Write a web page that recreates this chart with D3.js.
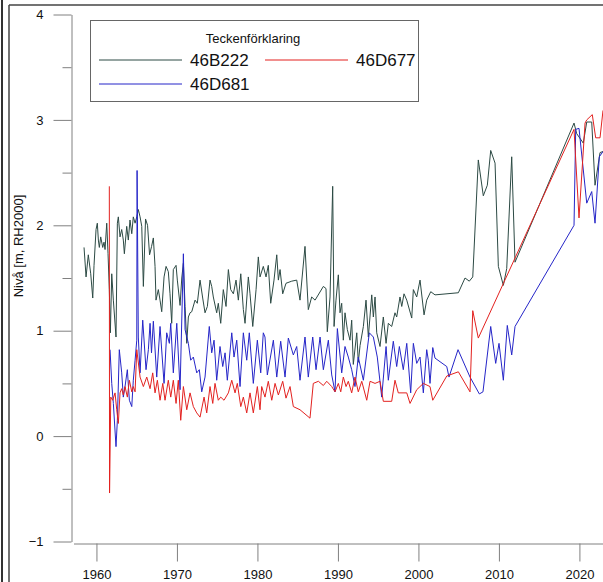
<!DOCTYPE html>
<html>
<head>
<meta charset="utf-8">
<script src="https://cdn.jsdelivr.net/npm/d3@7"></script>
<style>
body{margin:0;background:#fff;}
svg{display:block;font-family:Arial,"Liberation Sans",sans-serif;}
</style>
</head>
<body>
<svg id="chart" width="603" height="582"></svg>
<script>
// grundvattennivå, [år, nivå m RH2000]
var s46B222=[[1958.46,1.79],[1958.71,1.51],[1958.99,1.72],[1959.29,1.54],[1959.54,1.31],[1959.70,1.62],[1959.95,1.96],
  [1960.11,2.02],[1960.24,1.86],[1960.36,1.79],[1960.53,1.89],[1960.78,1.79],[1960.94,1.84],[1961.07,1.77],[1961.28,2.02],
  [1961.44,1.73],[1961.60,1.39],[1961.73,0.98],[1961.90,1.54],[1962.10,1.29],[1962.43,0.94],[1962.60,2.02],[1962.72,2.08],
  [1962.93,1.89],[1963.14,1.96],[1963.34,1.86],[1963.47,1.73],[1963.76,1.99],[1963.96,1.86],[1964.17,2.05],[1964.39,1.92],
  [1964.58,2.08],[1964.80,2.02],[1965.01,2.08],[1965.20,2.15],[1965.42,2.08],[1965.63,1.99],[1965.83,1.42],[1966.10,2.06],
  [1966.35,2.00],[1966.60,1.72],[1966.85,1.80],[1967.07,1.88],[1967.28,1.61],[1967.40,1.29],[1967.69,1.39],[1967.90,1.29],
  [1968.11,1.18],[1968.40,1.51],[1968.65,1.61],[1968.93,1.56],[1969.14,1.35],[1969.35,1.07],[1969.55,1.58],[1969.89,1.62],
  [1970.05,1.48],[1970.39,1.24],[1970.60,1.50],[1970.80,1.64],[1971.01,1.23],[1971.22,0.88],[1971.42,1.13],[1971.63,1.17],
  [1971.84,1.18],[1972.25,1.29],[1972.53,1.26],[1972.87,1.48],[1973.20,1.31],[1973.49,1.17],[1973.78,1.23],[1974.11,1.48],
  [1974.32,1.42],[1974.52,1.32],[1974.94,1.17],[1975.14,1.26],[1975.44,1.07],[1975.76,1.39],[1976.10,1.23],[1976.39,1.58],
  [1976.68,1.39],[1977.01,1.35],[1977.34,1.48],[1977.63,1.29],[1977.93,1.54],[1978.25,1.20],[1978.46,1.07],[1978.87,1.51],
  [1979.08,1.35],[1979.42,1.04],[1979.83,1.39],[1980.11,1.70],[1980.32,1.51],[1980.73,1.61],[1981.07,1.51],[1981.35,1.62],
  [1981.65,1.26],[1982.06,1.48],[1982.40,1.72],[1982.60,1.48],[1982.81,1.58],[1983.14,1.35],[1983.55,1.45],[1984.26,1.47],
  [1984.88,1.48],[1985.29,1.29],[1985.91,1.80],[1986.32,1.20],[1986.74,1.32],[1987.16,1.29],[1988.19,1.42],[1988.52,1.40],
  [1988.68,0.99],[1989.02,1.32],[1989.35,2.37],[1989.52,1.04],[1989.76,1.29],[1990.05,1.53],[1990.26,1.17],[1990.47,1.26],
  [1990.67,0.91],[1990.88,1.17],[1991.17,1.01],[1991.50,0.91],[1991.71,1.10],[1991.91,0.68],[1992.34,0.98],[1992.53,0.70],
  [1992.75,0.86],[1993.16,1.04],[1993.49,1.29],[1993.78,0.94],[1994.20,1.34],[1994.40,1.13],[1994.61,1.32],[1994.82,0.98],
  [1995.23,0.85],[1995.64,1.13],[1995.98,0.88],[1996.26,1.07],[1996.68,1.04],[1997.09,1.17],[1997.30,1.13],[1997.71,1.32],
  [1997.93,1.23],[1998.21,1.35],[1998.55,1.29],[1999.17,1.12],[1999.37,1.39],[1999.79,1.32],[2000.20,1.48],[2000.70,1.15],
  [2001.03,1.29],[2001.53,1.37],[2002.06,1.34],[2004.96,1.36],[2005.79,1.50],[2006.32,1.47],[2006.75,1.51],[2007.44,2.62],
  [2008.06,2.28],[2008.56,2.38],[2008.98,2.71],[2009.52,2.59],[2009.93,1.61],[2010.55,1.43],[2010.97,1.59],[2011.59,2.65],
  [2012.00,1.65],[2019.33,2.97],[2019.66,2.87],[2020.48,2.78],[2020.91,2.98],[2021.53,2.98],[2021.94,2.38],[2022.56,2.69],
  [2022.93,2.70]];

var s46D677=[[1961.60,2.37],[1961.63,-0.54],[1961.78,0.37],[1962.02,0.34],[1962.31,0.41],[1962.52,0.25],[1962.72,0.12],
  [1962.93,0.41],[1963.14,0.45],[1963.34,0.39],[1963.55,0.47],[1963.84,0.37],[1964.09,0.53],[1964.39,0.42],[1964.58,0.47],
  [1964.80,0.42],[1965.01,0.82],[1965.42,0.56],[1965.83,0.47],[1966.25,0.56],[1966.66,0.45],[1966.99,0.60],[1967.28,0.41],
  [1967.57,0.53],[1967.90,0.34],[1968.24,0.50],[1968.52,0.34],[1968.93,0.53],[1969.23,0.37],[1969.55,0.53],[1969.89,0.31],
  [1970.17,0.53],[1970.47,0.15],[1970.80,0.47],[1971.22,0.25],[1971.63,0.41],[1972.04,0.28],[1972.46,0.22],[1972.87,0.18],
  [1973.37,0.37],[1973.70,0.22],[1974.11,0.47],[1974.45,0.31],[1974.73,0.50],[1975.14,0.34],[1975.44,0.37],[1975.85,0.34],
  [1976.39,0.41],[1976.81,0.53],[1977.22,0.41],[1977.50,0.50],[1977.93,0.28],[1978.25,0.37],[1978.67,0.22],[1979.08,0.41],
  [1979.49,0.22],[1979.99,0.47],[1980.32,0.25],[1980.53,0.47],[1980.94,0.37],[1981.35,0.52],[1981.78,0.34],[1982.19,0.50],
  [1982.60,0.39],[1983.14,0.52],[1983.55,0.36],[1984.05,0.47],[1984.46,0.28],[1985.29,0.25],[1986.53,0.17],[1986.94,0.50],
  [1987.57,0.52],[1988.19,0.48],[1988.61,0.52],[1989.23,0.47],[1989.64,0.42],[1990.05,0.50],[1990.35,0.42],[1990.67,0.56],
  [1991.01,0.47],[1991.29,0.52],[1991.71,0.41],[1992.12,0.56],[1992.53,0.42],[1992.96,0.52],[1993.58,0.34],[1993.99,0.52],
  [1994.61,0.50],[1995.23,0.52],[1995.64,0.33],[1996.68,0.33],[1997.09,0.53],[1997.50,0.41],[1998.55,0.41],[1998.96,0.31],
  [1999.79,0.44],[2000.61,0.50],[2001.44,0.47],[2001.78,0.34],[2003.52,0.57],[2004.96,0.61],[2006.41,0.42],[2006.75,1.19],
  [2007.44,0.93],[2019.33,2.91],[2019.95,2.07],[2020.70,2.97],[2020.91,3.00],[2021.60,3.05],[2022.02,2.83],[2022.56,2.83],
  [2022.93,3.09]];

var s46D681=[[1961.69,0.82],[1961.90,0.50],[1962.10,0.31],[1962.43,-0.10],[1962.60,0.15],[1962.84,0.82],[1963.14,0.60],
  [1963.34,0.37],[1963.55,0.47],[1963.84,0.63],[1964.09,0.34],[1964.39,0.28],[1964.58,0.53],[1964.80,0.72],[1965.01,0.91],
  [1965.05,2.52],[1965.20,0.94],[1965.42,0.60],[1965.75,1.10],[1966.16,0.63],[1966.45,0.82],[1966.66,1.07],[1966.84,0.79],
  [1967.07,1.09],[1967.49,0.56],[1967.90,1.04],[1968.40,0.50],[1968.73,0.98],[1969.06,0.88],[1969.23,1.07],[1969.55,0.60],
  [1969.98,1.07],[1970.39,0.44],[1970.80,1.73],[1971.01,1.01],[1971.42,0.88],[1971.71,0.72],[1972.04,0.75],[1972.46,0.60],
  [1972.78,0.63],[1973.08,0.42],[1973.49,0.56],[1974.02,1.04],[1974.32,0.79],[1974.61,0.91],[1974.94,0.53],[1975.35,0.85],
  [1975.69,0.66],[1975.98,0.79],[1976.26,0.53],[1976.81,0.98],[1977.09,0.75],[1977.43,0.91],[1977.84,0.47],[1978.25,0.98],
  [1978.67,0.72],[1978.99,0.98],[1979.49,0.50],[1979.99,0.91],[1980.41,0.60],[1980.73,0.98],[1980.94,0.94],[1981.23,0.58],
  [1981.98,0.91],[1982.40,0.56],[1982.89,0.90],[1983.43,0.56],[1983.84,0.93],[1984.46,0.77],[1984.88,0.85],[1985.29,0.53],
  [1985.91,0.94],[1986.32,0.56],[1986.87,0.94],[1987.28,0.63],[1987.78,0.94],[1988.19,0.63],[1988.81,0.91],[1989.23,0.58],
  [1989.64,0.42],[1989.93,1.02],[1990.47,0.60],[1990.88,0.85],[1991.29,0.75],[1991.71,0.63],[1992.12,0.47],[1992.53,0.75],
  [1993.16,0.53],[1993.90,0.98],[1994.40,0.94],[1994.89,0.75],[1995.44,0.37],[1995.98,0.85],[1996.26,0.53],[1996.88,0.90],
  [1997.30,0.66],[1997.63,0.85],[1998.12,0.63],[1998.55,0.88],[1999.04,0.41],[1999.37,0.88],[1999.79,0.69],[2000.20,0.75],
  [2000.61,0.41],[2001.03,0.82],[2001.23,0.72],[2001.44,0.50],[2001.78,0.84],[2002.06,0.74],[2003.52,0.66],[2003.80,0.56],
  [2004.92,0.82],[2006.41,0.56],[2007.57,0.40],[2008.02,0.42],[2008.98,1.04],[2009.60,0.69],[2010.01,0.88],[2010.55,0.53],
  [2011.04,1.05],[2011.59,0.77],[2012.00,1.04],[2019.33,2.00],[2019.54,2.91],[2019.95,2.92],[2020.91,2.21],[2021.53,2.32],
  [2021.94,2.02],[2022.47,2.65],[2022.93,2.70]];

var serier=["46B222","46D677","46D681"];
var farger=["#2c4a44","#e3211f","#2525c8"];
var arTicks=[1960,1970,1980,1990,2000,2010,2020];
var nivaTicks=[-1,0,1,2,3,4];
var nivaMinor=[-0.5,0.5,1.5,2.5,3.5];

var svg=d3.select("#chart");
var axelFarg="#808080";

var x=d3.scaleLinear()
    .domain([1957.15,2022.93])
    .range([73.5,603]);

var y=d3.scaleLinear()
    .domain([-1,4])
    .range([541.5,14.5]);

// ram runt figuren
svg.append("line").attr("x1",2).attr("x2",2).attr("y1",0).attr("y2",582)
  .attr("stroke","#333").attr("stroke-width",2);
svg.append("line").attr("x1",9).attr("x2",9).attr("y1",5).attr("y2",582)
  .attr("stroke","#444").attr("stroke-width",1.5);
svg.append("line").attr("x1",9).attr("x2",603).attr("y1",5).attr("y2",5)
  .attr("stroke","#444").attr("stroke-width",1.5);

// y-axel
var yAxis=d3.axisLeft(y)
    .tickValues(nivaTicks)
    .tickSize(18)
    .tickSizeOuter(0)
    .tickPadding(10)
    .tickFormat(d3.format("d"));

var gy=svg.append("g").attr("transform","translate(71.5,0)").call(yAxis);
gy.append("g").call(d3.axisLeft(y).tickValues(nivaMinor).tickSize(9).tickFormat(""))
  .select(".domain").remove();
gy.selectAll("path,line").attr("stroke",axelFarg);
gy.selectAll("text").attr("fill","#111").attr("font-size",13).attr("font-family",null);

// x-axel
var xAxis=d3.axisBottom(x)
    .tickValues(arTicks)
    .tickSize(18)
    .tickSizeOuter(0)
    .tickPadding(8)
    .tickFormat(d3.format("d"));

var gx=svg.append("g").attr("transform","translate(0,543.5)").call(xAxis);
gx.selectAll("path,line").attr("stroke",axelFarg);
gx.selectAll("text").attr("fill","#111").attr("font-size",13).attr("font-family",null);

svg.append("text")
    .attr("transform","translate(23,246) rotate(-90)")
    .attr("text-anchor","middle")
    .attr("font-size",13)
    .attr("fill","#111")
    .text("Nivå [m, RH2000]");

// kurvor
var linje=d3.line()
    .x(function(d){ return x(d[0]); })
    .y(function(d){ return y(d[1]); });

var data={"46B222":s46B222,"46D677":s46D677,"46D681":s46D681};
var ordning=[0,2,1];

svg.append("clipPath").attr("id","klipp")
  .append("rect").attr("x",72).attr("y",0).attr("width",531).attr("height",543);

svg.append("g").attr("clip-path","url(#klipp)")
  .selectAll("path")
  .data(ordning)
  .enter().append("path")
    .attr("d",function(i){ return linje(data[serier[i]]); })
    .attr("fill","none")
    .attr("stroke",function(i){ return farger[i]; })
    .attr("stroke-width",1)
    .attr("stroke-linejoin","round");

// teckenförklaring
var leg=svg.append("g");
leg.append("rect").attr("x",90.5).attr("y",20.5).attr("width",328).attr("height",81)
  .attr("fill","#fff").attr("stroke","#666");
leg.append("text").attr("x",253).attr("y",42.5).attr("text-anchor","middle")
  .attr("font-size",13).attr("fill","#111").text("Teckenförklaring");

var legPos=[[99,60],[265,60],[99,84]];
serier.forEach(function(s,i){
  var p=legPos[i];
  leg.append("line").attr("x1",p[0]).attr("x2",p[0]+83).attr("y1",p[1]).attr("y2",p[1])
    .attr("stroke",farger[i]).attr("stroke-width",1);
  leg.append("text").attr("x",p[0]+91).attr("y",p[1]+6).attr("font-size",17)
    .attr("fill","#111").text(s);
});
</script>
</body>
</html>
